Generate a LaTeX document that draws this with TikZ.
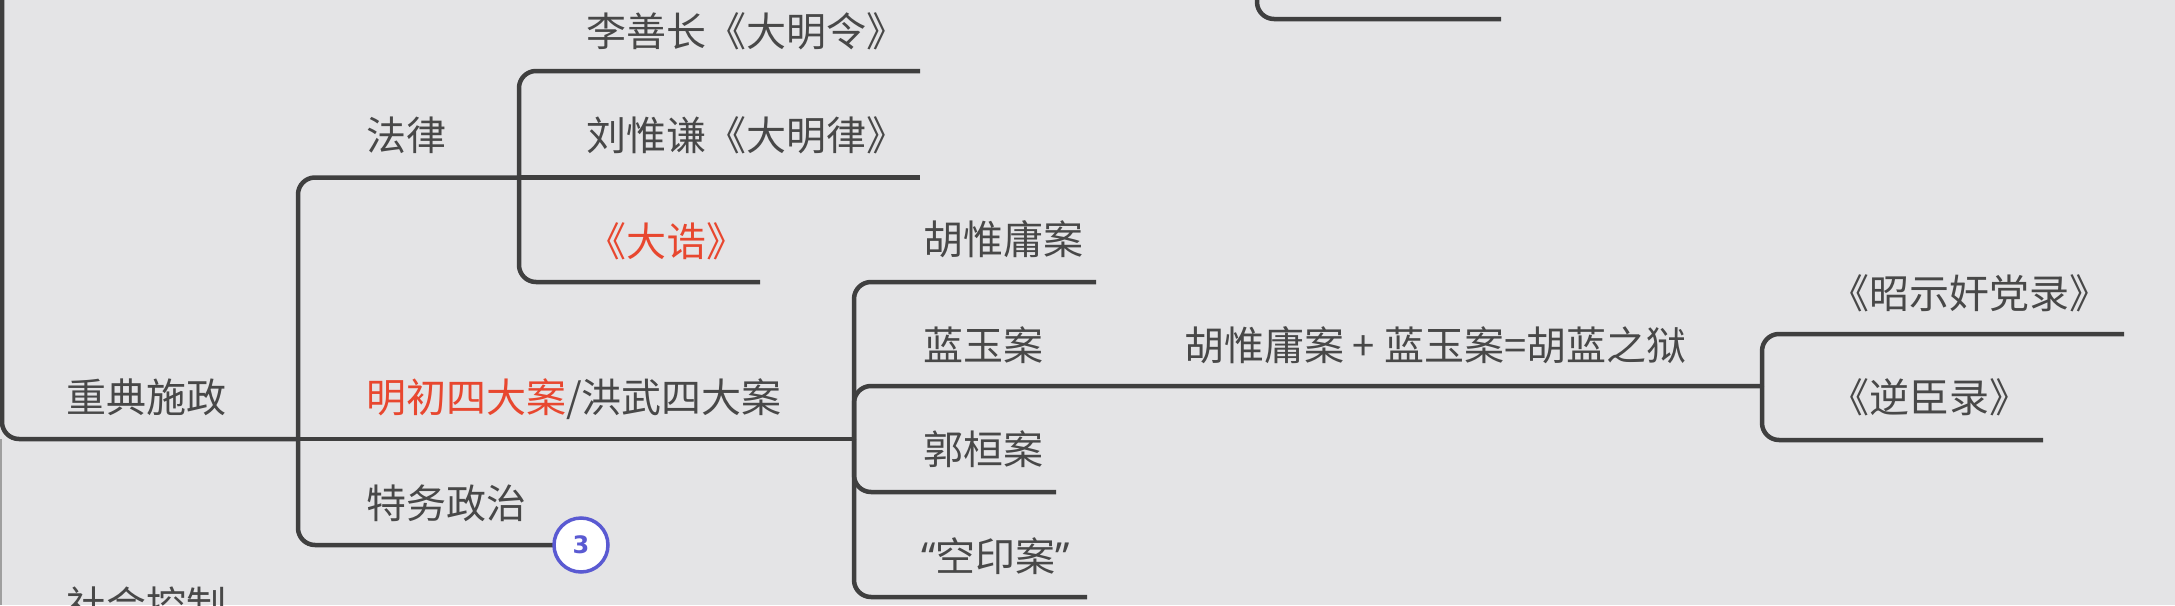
\documentclass[tikz,border=0pt]{standalone}
\usepackage{fontspec}
\setmainfont{Noto Sans CJK SC}
\newfontfamily\lat{Noto Sans}
\newfontfamily\badgefont{DejaVu Sans}
\definecolor{bg}{HTML}{E4E4E6}
\definecolor{lc}{HTML}{3F3F3F}
\definecolor{tc}{HTML}{484848}
\definecolor{rc}{HTML}{E8472F}
\definecolor{bc}{HTML}{5A5AD2}
\tikzset{
  br/.style={draw=lc, line width=4.5pt, rounded corners=17pt, line cap=butt},
  lbl/.style={anchor=base west, inner sep=0pt, outer sep=0pt, text=tc, font=\fontsize{40}{48}\selectfont},
  badge/.style={circle, draw=bc, line width=3.5pt, fill=white, minimum size=54pt, inner sep=0pt, text=bc, font=\badgefont\bfseries\fontsize{24}{28}\selectfont}
}
\begin{document}
\begin{tikzpicture}[x=1pt,y=-1pt]
\useasboundingbox (0,0) rectangle (2175,605);
\fill[bg] (0,0) rectangle (2175,605);
\clip (0,0) rectangle (2175,605);
% junctions
\coordinate (top) at (2,-40);
\coordinate (v1) at (298,439);
\coordinate (v2) at (519,177.5);
\coordinate (v3) at (854,439);
\coordinate (v4) at (1762,386);
\coordinate (e1) at (920,71);
\coordinate (e2) at (920,177.5);
\coordinate (e3) at (760,282);
\coordinate (e4) at (1096,282);
\coordinate (e5) at (1056,492);
\coordinate (e6) at (1087,597);
\coordinate (e7) at (2124,334);
\coordinate (e8) at (2043,440);
\coordinate (t1) at (1257,-40);
\coordinate (t2) at (1501,19);
\coordinate (s1) at (1,439);
\coordinate (s2) at (1,605);
% labels
\node[lbl] (zd) at (66,412) {重典施政};
\node[lbl] (fl) at (366,150) {法律};
\node[lbl] (lsc) at (586,46) {李善长《大明令》};
\node[lbl] (lwq) at (586,150) {刘惟谦《大明律》};
\node[lbl, text=rc] (dg) at (586,256) {《大诰》};
\node[lbl] (mc) at (366,412) {\textcolor{rc}{明初四大案}/洪武四大案};
\node[lbl] (tw) at (366,518) {特务政治};
\node[lbl] (hwy) at (923,254) {胡惟庸案};
\node[lbl] (ly) at (923,360) {蓝玉案};
\node[lbl] (gh) at (923,464) {郭桓案};
\node[lbl] (ky) at (921,571) {{\lat “}空印案{\lat ”}};
\node[lbl] (hl) at (1184,360) {胡惟庸案 + 蓝玉案=胡蓝之狱};
\node[lbl] (zs) at (1829,308) {《昭示奸党录》};
\node[lbl] (nc) at (1829,412) {《逆臣录》};
\node[lbl] (sh) at (66,620) {社会控制};
\coordinate (b3) at (581,545);
% connectors
\draw[draw=gray!75, line width=1.5pt] (s1) -- (s2);
\draw[br] (top) |- (v1);
\draw[br] (v1) |- (v2);
\draw[br] (v1) -- (v3);
\draw[br] (v1) |- (b3);
\draw[br] (v2) |- (e1);
\draw[br] (v2) -- (e2);
\draw[br] (v2) |- (e3);
\draw[br] (v3) |- (e4);
\draw[br] (v3) |- (v4);
\draw[br] (v3) |- (e5);
\draw[br] (v3) |- (e6);
\draw[br] (v4) |- (e7);
\draw[br] (v4) |- (e8);
\draw[br] (t1) |- (t2);
\node[badge] (badge3) at (b3) {3};
\end{tikzpicture}
\end{document}
